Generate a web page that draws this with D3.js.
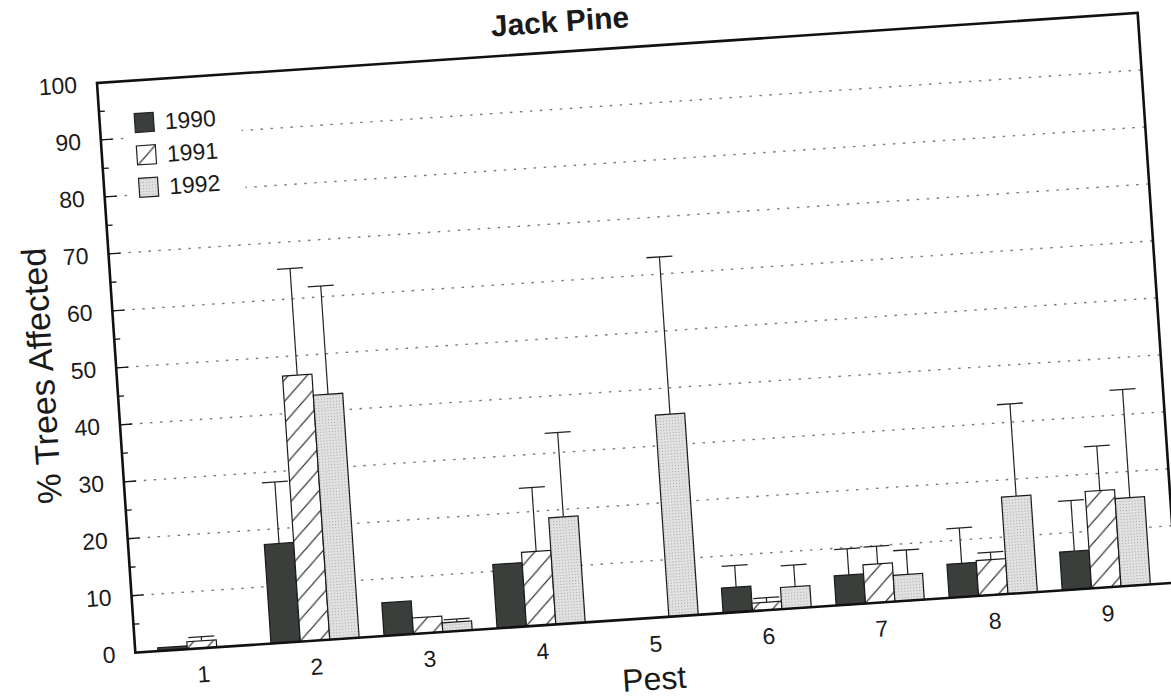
<!DOCTYPE html>
<html>
<head>
<meta charset="utf-8">
<script src="https://cdn.jsdelivr.net/npm/d3@7"></script>
<style>
  html, body { margin: 0; padding: 0; background: #fff; }
  svg { display: block; }
</style>
</head>
<body>
<div id="chart"></div>
<script>
// Chart values
const pests = ["1", "2", "3", "4", "5", "6", "7", "8", "9"];
const years = ["1990", "1991", "1992"];
const values1990 = [0.6, 17.4, 5.8, 11.2, 0, 4.4, 5.2, 5.9, 6.7];
const values1991 = [1.3, 46.6, 2.8, 13.0, 0, 1.4, 6.8, 6.2, 17.0];
const values1992 = [0, 42.9, 1.6, 18.7, 35.4, 3.8, 4.6, 17.0, 15.4];
// upper error (added to the bar value), 0 = no error bar
const errors1990 = [0, 10.8, 0, 0, 0, 3.8, 4.6, 6.2, 8.9];
const errors1991 = [0.7, 18.7, 0, 11.2, 0, 0.8, 3.1, 1.3, 7.8];
const errors1992 = [0, 19.0, 0.5, 14.8, 27.6, 3.8, 4.3, 16.2, 19.0];
const yTicks = [0, 10, 20, 30, 40, 50, 60, 70, 80, 90, 100];

function createChart() {
    const width = 1171;
    const height = 698;
    const plotW = 1043;
    const plotH = 571;
    const font = "'Liberation Sans', Arial, Helvetica, sans-serif";

    const svg = d3.select("#chart")
        .append("svg")
        .attr("width", width)
        .attr("height", height);

    // patterns for the 1991 hatch and the 1992 stipple
    const defs = svg.append("defs");
    const hatch = defs.append("pattern")
        .attr("id", "hatch")
        .attr("patternUnits", "userSpaceOnUse")
        .attr("width", 20)
        .attr("height", 20);
    hatch.append("rect").attr("width", 20).attr("height", 20).attr("fill", "#fff");
    hatch.append("path")
        .attr("d", "M-5,5 L5,-5 M0,20 L20,0 M15,25 L25,15")
        .attr("stroke", "#222")
        .attr("stroke-width", 1.2);

    const stipple = defs.append("pattern")
        .attr("id", "stipple")
        .attr("patternUnits", "userSpaceOnUse")
        .attr("width", 3)
        .attr("height", 3);
    stipple.append("rect").attr("width", 3).attr("height", 3).attr("fill", "#e1e1e1");
    stipple.append("rect").attr("width", 1).attr("height", 1).attr("fill", "#a9a9a9");

    const fills = { "1990": "#3a3f3b", "1991": "url(#hatch)", "1992": "url(#stipple)" };
    const seriesValues = { "1990": values1990, "1991": values1991, "1992": values1992 };
    const seriesErrors = { "1990": errors1990, "1991": errors1991, "1992": errors1992 };

    // the scanned page is slightly tilted
    const g = svg.append("g")
        .attr("transform", "translate(97,83) rotate(-3.85)");

    const x = d3.scaleBand()
        .domain(pests)
        .range([0, 1040])
        .paddingInner(0.22)
        .paddingOuter(0.2);

    const xYear = d3.scaleBand()
        .domain(years)
        .range([0, x.bandwidth()]);

    const y = d3.scaleLinear()
        .domain([0, 100])
        .range([plotH, 0]);

    // dotted grid
    g.selectAll(".grid")
        .data(yTicks.filter(d => d > 0 && d < 100))
        .enter()
        .append("line")
        .attr("class", "grid")
        .attr("x1", 0)
        .attr("x2", plotW)
        .attr("y1", d => y(d))
        .attr("y2", d => y(d))
        .attr("stroke", "#7a7a7a")
        .attr("stroke-width", 1.4)
        .attr("stroke-dasharray", "2.5,7.5");

    // ticks inside the left axis
    g.selectAll(".major")
        .data(yTicks.filter(d => d > 0 && d < 100))
        .enter()
        .append("line")
        .attr("x1", 0).attr("x2", 12)
        .attr("y1", d => y(d)).attr("y2", d => y(d))
        .attr("stroke", "#111").attr("stroke-width", 1.3);

    g.selectAll(".minor")
        .data(d3.range(5, 100, 10))
        .enter()
        .append("line")
        .attr("x1", 0).attr("x2", 6)
        .attr("y1", d => y(d)).attr("y2", d => y(d))
        .attr("stroke", "#111").attr("stroke-width", 1.3);

    // legend (white block over the grid)
    const legend = g.append("g");
    legend.append("rect")
        .attr("x", 24).attr("y", 26)
        .attr("width", 117).attr("height", 98)
        .attr("fill", "#fff");
    years.forEach((yr, i) => {
        const top = 33 + i * 32.5;
        legend.append("rect")
            .attr("x", 35).attr("y", top)
            .attr("width", 19).attr("height", 19)
            .attr("fill", fills[yr])
            .attr("stroke", "#222")
            .attr("stroke-width", 1.2);
        legend.append("text")
            .attr("x", 65).attr("y", top + 9.5)
            .attr("dy", "0.36em")
            .attr("font-family", font)
            .attr("font-size", 23)
            .attr("fill", "#1a1a1a")
            .text(yr);
    });

    // bars
    const groups = g.selectAll(".pest")
        .data(pests)
        .enter()
        .append("g")
        .attr("class", "pest")
        .attr("transform", d => `translate(${x(d)},0)`);

    groups.selectAll("rect")
        .data((p, i) => years.map(yr => ({ year: yr, value: seriesValues[yr][i] })).filter(d => d.value > 0))
        .enter()
        .append("rect")
        .attr("x", d => xYear(d.year))
        .attr("y", d => y(d.value))
        .attr("width", xYear.bandwidth())
        .attr("height", d => y(0) - y(d.value))
        .attr("fill", d => fills[d.year])
        .attr("stroke", "#1a1a1a")
        .attr("stroke-width", 1.2);

    // error bars (upper only)
    const errs = groups.selectAll(".err")
        .data((p, i) => years.map(yr => ({
            year: yr,
            value: seriesValues[yr][i],
            err: seriesErrors[yr][i]
        })).filter(d => d.err > 0))
        .enter()
        .append("g")
        .attr("class", "err");

    errs.append("line")
        .attr("x1", d => xYear(d.year) + xYear.bandwidth() / 2)
        .attr("x2", d => xYear(d.year) + xYear.bandwidth() / 2)
        .attr("y1", d => y(d.value))
        .attr("y2", d => y(d.value + d.err))
        .attr("stroke", "#222")
        .attr("stroke-width", 1.2);

    errs.append("line")
        .attr("x1", d => xYear(d.year) + xYear.bandwidth() / 2 - 13)
        .attr("x2", d => xYear(d.year) + xYear.bandwidth() / 2 + 13)
        .attr("y1", d => y(d.value + d.err))
        .attr("y2", d => y(d.value + d.err))
        .attr("stroke", "#222")
        .attr("stroke-width", 1.3);

    // frame
    g.append("rect")
        .attr("x", 0).attr("y", 0)
        .attr("width", plotW).attr("height", plotH)
        .attr("fill", "none")
        .attr("stroke", "#111")
        .attr("stroke-width", 2.6);

    // y tick labels
    g.selectAll(".ylabel")
        .data(yTicks)
        .enter()
        .append("text")
        .attr("x", -20)
        .attr("y", d => y(d))
        .attr("dy", "0.36em")
        .attr("text-anchor", "end")
        .attr("font-family", font)
        .attr("font-size", 23)
        .attr("fill", "#1a1a1a")
        .text(d => d);

    // x tick labels
    g.selectAll(".xlabel")
        .data(pests)
        .enter()
        .append("text")
        .attr("x", d => x(d) + x.bandwidth() / 2)
        .attr("y", plotH + 34)
        .attr("text-anchor", "middle")
        .attr("font-family", font)
        .attr("font-size", 23)
        .attr("fill", "#1a1a1a")
        .text(d => d);

    // titles
    g.append("text")
        .attr("x", 516)
        .attr("y", plotH + 72)
        .attr("text-anchor", "middle")
        .attr("font-family", font)
        .attr("font-size", 32)
        .attr("fill", "#1a1a1a")
        .text("Pest");

    g.append("text")
        .attr("transform", `translate(-63,${plotH / 2 + 3}) rotate(-90)`)
        .attr("text-anchor", "middle")
        .attr("font-family", font)
        .attr("font-size", 34)
        .attr("fill", "#1a1a1a")
        .text("% Trees Affected");

    g.append("text")
        .attr("x", 466)
        .attr("y", -20)
        .attr("text-anchor", "middle")
        .attr("font-family", font)
        .attr("font-weight", "bold")
        .attr("font-size", 30)
        .attr("fill", "#1a1a1a")
        .text("Jack Pine");
}

document.addEventListener('DOMContentLoaded', createChart);
</script>
</body>
</html>
